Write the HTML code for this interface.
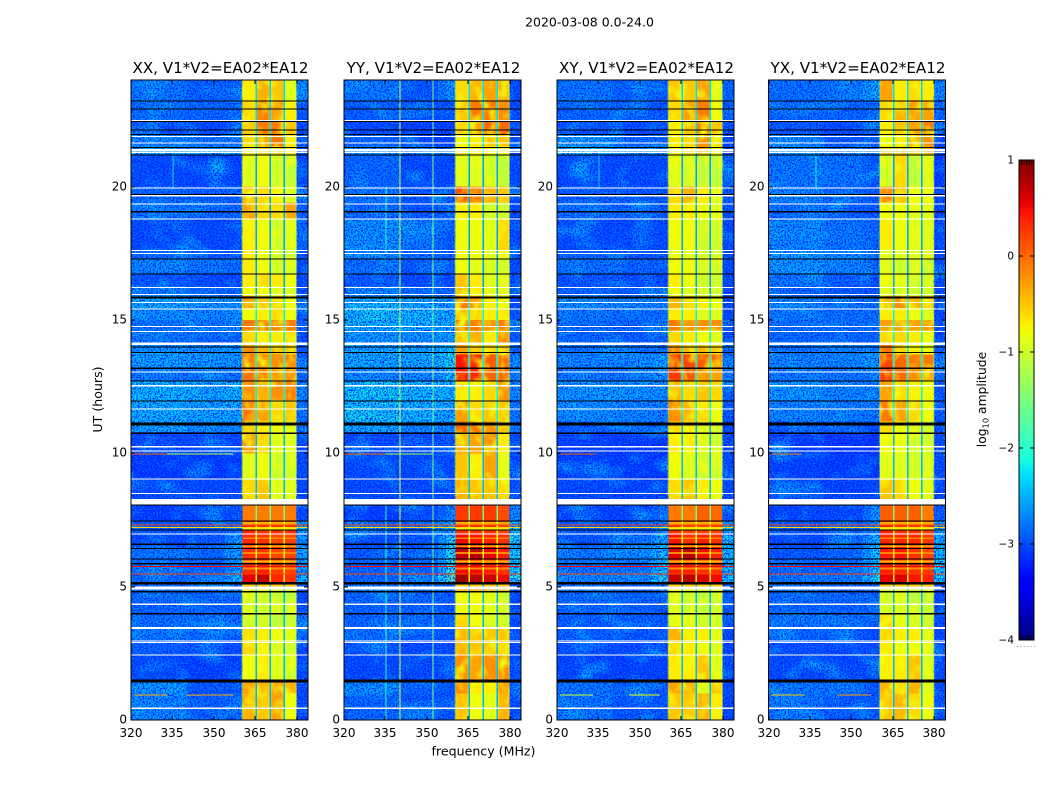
<!DOCTYPE html>
<html lang="en">
<head>
<meta charset="utf-8">
<title>2020-03-08 0.0-24.0</title>
<style>
html,body{margin:0;padding:0;background:#fff;width:1050px;height:800px;overflow:hidden}
svg{display:block;font-family:"DejaVu Sans","Liberation Sans",sans-serif;fill:#000}
</style>
</head>
<body>
<svg id="figure" xmlns="http://www.w3.org/2000/svg" width="1050" height="800" viewBox="0 0 1050 800">
<defs>
<filter id="speckle-dark" x="0" y="0" width="100%" height="100%" color-interpolation-filters="sRGB">
<feTurbulence type="fractalNoise" baseFrequency="0.6" numOctaves="2" seed="4"/>
<feColorMatrix type="matrix" values="0 0 0 0 0  0 0 0 0 0.1  0 0 0 0 1  4 0 0 0 -1.7"/>
</filter>
<filter id="speckle-light" x="0" y="0" width="100%" height="100%" color-interpolation-filters="sRGB">
<feTurbulence type="fractalNoise" baseFrequency="0.65" numOctaves="2" seed="11"/>
<feColorMatrix type="matrix" values="0 0 0 0 0  0 0 0 0 0.75  0 0 0 0 1  0 2 0 0 -1"/>
</filter>
<filter id="blotch-light" x="0" y="0" width="100%" height="100%" color-interpolation-filters="sRGB">
<feTurbulence type="fractalNoise" baseFrequency="0.035 0.05" numOctaves="2" seed="23"/>
<feColorMatrix type="matrix" values="0 0 0 0 0  0 0 0 0 0.75  0 0 0 0 1  2.5 0 0 0 -1.2"/>
</filter>
<filter id="blotch-window" x="0" y="0" width="100%" height="100%" color-interpolation-filters="sRGB">
<feTurbulence type="fractalNoise" baseFrequency="0.09 0.07" numOctaves="2" seed="7"/>
<feColorMatrix type="matrix" values="0 0 0 0 0.95  0 0 0 0 1  0 0 0 0 0.05  2.6 0 0 0 -1.2"/>
</filter>
</defs>
<g id="panels"></g>
<g id="colorbar"></g>
<text x="589.5" y="26.5" font-size="12.5" text-anchor="middle">2020-03-08 0.0-24.0</text>
<text x="483.5" y="755.5" font-size="12.6" text-anchor="middle">frequency (MHz)</text>
<text transform="translate(102,399.5) rotate(-90)" font-size="12.6" text-anchor="middle">UT (hours)</text>
<text transform="translate(986,399.5) rotate(-90)" font-size="12.3" text-anchor="middle">log<tspan font-size="8.3" dy="2.5">10</tspan><tspan dy="-2.5"> amplitude</tspan></text>
</svg>
<script>
const panelTitles = ["XX, V1*V2=EA02*EA12", "YY, V1*V2=EA02*EA12", "XY, V1*V2=EA02*EA12", "YX, V1*V2=EA02*EA12"];
const xTicks = [320, 335, 350, 365, 380];
const yTicks = [0, 5, 10, 15, 20];
const colorTicks = [1, 0, -1, -2, -3, -4];
// Time-band boundaries (UT hours), from the top of the plot down
const bandEdges = [24,23.23,22.5,21.95,21.5,21.2,20,19.4,18.8,17.6,17.3,16.75,16.25,15.9,15.45,15,14.6,14.1,13.7,13.2,12.7,12,11.2,10.8,10,9,8.4,8.1,7.45,7,6.5,6.05,5.5,5.15,4.85,4,3.5,2.95,2.45,1.5,1,0];
// Frequency-column boundaries (MHz)
const freqEdges = [320,340,354,357,360.3,365,365.55,370,370.55,375.2,375.75,379.8,384];
// Which value in a row belongs to each frequency column (-1 notch list, -2 mean of the two neighbouring background values)
const columnSource = [0,1,-2,2,3,-1,4,-1,5,-1,6,7];
// Log10 amplitude in the gaps between spectral windows, per time band
const notchValues = [-2.3,-2.3,-2.3,-2.3,-2.3,-2.6,-2.6,-2.6,-2.6,-2.6,-2.6,-2.6,-2.6,-2.2,-2.2,-2.2,-2.2,-2.2,-2.2,-2.2,-2.2,-2.2,-2.5,-2.5,-2.5,-2.5,-2.5,-1.6,-.8,-.8,-.8,-.8,-.8,-2.5,-2.5,-2.5,-2.5,-2.5,-2.5,-2.5,-2.5];
// Log10 amplitude per time band: 320-340, 340-354, 354-360, window 1-4, 380-384
const valuesXX = [
[-2.7,-2.85,-2.8,-.7,-.4,-.5,-.9,-2.6],[-2.75,-2.8,-2.8,-.6,-.15,-.3,-.7,-2.9],[-3,-3,-2.9,-.5,-.1,-.1,-.5,-3],[-2.6,-2.7,-2.7,-.6,-.3,-.1,-.7,-2.8],[-2.4,-2.4,-2.5,-.6,-.5,-.5,-.7,-2.9],
[-3,-3.05,-3.05,-.9,-.8,-1,-1.1,-3],[-2.8,-2.85,-2.9,-.4,-.6,-.7,-.9,-2.9],[-2.7,-2.8,-2.8,-.3,-.6,-.6,-.3,-2.9],[-3,-3,-3,-.7,-.8,-1,-.9,-2.8],[-2.8,-2.9,-2.9,-.7,-.8,-1,-1,-2.9],
[-2.6,-2.7,-2.8,-.7,-.8,-1,-1,-3],[-2.9,-3,-3,-.7,-.6,-.7,-.8,-3],[-2.7,-2.8,-2.8,-.8,-.8,-.9,-1,-3],[-2.4,-2.5,-2.5,-.2,-.5,-.6,-.8,-2.9],[-2.55,-2.6,-2.6,-.8,-.7,-.6,-.8,-2.9],
[-2.7,-2.7,-2.6,-.1,-.1,-.1,-.1,-2.8],[-2.7,-2.8,-2.8,-.6,-.7,-.7,-.6,-3],[-2.5,-2.5,-2.5,-.1,-.4,-.4,-.5,-2.9],[-2.45,-2.5,-2.5,-.1,-.2,-.2,-.1,-2.8],[-2.7,-2.7,-2.7,-.05,-.2,-.3,-.2,-2.8],
[-2.3,-2.35,-2.35,-.2,-.4,-.2,-.1,-2.6],[-2.35,-2.4,-2.4,-.05,-.3,-.6,-.5,-2.7],[-2.4,-2.6,-2.6,-.5,-.7,-.8,-.9,-2.7],[-3,-3,-3.05,-.3,-.6,-.9,-.9,-3],[-3.1,-3.1,-3.1,-.9,-.8,-1,-1,-3],
[-3,-3,-3,-.6,-.5,-.9,-.9,-3],[-3,-3,-3,-.6,-.5,-.9,-.9,-3],[-3.1,-3.1,-2.9,-.1,-.1,-.1,-.1,-3],[-2.9,-2.9,-2.7,.35,.3,.3,.3,-2.4],[-3,-2.9,-2.4,.35,.3,.2,.2,-2.5],
[-2.7,-2.8,-2.4,.3,.3,.2,.2,-2.4],[-2.8,-2.85,-2.4,.3,.4,.25,.2,-2.5],[-2.8,-2.7,-2.3,.55,.7,.35,.3,-2.3],[-2.7,-2.7,-2.8,-.7,-.8,-.9,-1,-2.9],[-2.8,-2.8,-2.8,-.95,-1,-1.05,-1.1,-3],
[-2.75,-2.7,-2.8,-1,-1,-1.1,-1.1,-3],[-2.7,-2.75,-2.9,-.6,-.7,-.8,-.9,-3],[-2.85,-2.95,-3,-.6,-.7,-.9,-1,-3],[-3,-3.05,-3.05,-.8,-.7,-.9,-1,-3],[-2.5,-2.9,-2.9,-.3,-.4,-.3,-.4,-3],
[-2.6,-2.85,-2.75,-.4,-.5,-.3,-.8,-3]];
const valuesYY = [
[-2.7,-2.9,-2.5,-.6,-.4,-.3,-.3,-3],[-2.85,-2.95,-2.95,-.5,-.1,-.1,-.2,-3],[-3,-3.05,-3.1,-.6,-.3,0,0,-2.9],[-2.8,-3.05,-3.05,-.8,-.7,-.5,-.5,-3],[-2.5,-2.6,-2.6,-.7,-.7,-.7,-.8,-3],
[-2.8,-3,-3,-.9,-.9,-1,-1.1,-3],[-2.7,-2.9,-2.9,.1,-.1,-.4,-.5,-3],[-2.8,-2.9,-2.9,-.7,-.7,-1,-1,-3],[-2.55,-2.7,-2.9,-.8,-.8,-.9,-.6,-3],[-2.6,-2.75,-2.9,-.8,-.8,-.9,-.8,-3],
[-2.75,-2.9,-3,-.8,-.9,-1,-1,-3],[-2.9,-3,-3,-.5,-.7,-.9,-.9,-3],[-2.6,-2.8,-2.8,-.5,-.7,-.9,-.9,-3],[-2.3,-2.4,-2.5,-.1,-.2,-.7,-.8,-3],[-2.2,-2.3,-2.4,-.5,-.6,-.7,-.7,-2.9],
[-2.25,-2.3,-2.3,0,-.1,-.2,-.1,-2.7],[-2.5,-2.5,-2.5,-.5,-.4,-.7,-.2,-2.9],[-2.35,-2.4,-2.2,-.3,-.5,-.5,-.5,-2.8],[-2.4,-2.4,-2.1,.45,.35,.05,.05,-2.6],[-2.6,-2.6,-2.3,.45,.35,0,0,-2.7],
[-2.2,-2.3,-2.3,-.7,-.7,-.6,-.2,-2.6],[-2.2,-2.3,-2.3,-.3,-.6,-.5,-.5,-2.7],[-2.4,-2.6,-2.6,0,-.1,-.2,-.5,-2.7],[-3,-3,-3,-.4,-.3,-.2,-.7,-3],[-3,-3,-3,-.5,-.7,-.3,-.9,-3],
[-3,-3,-3,-.4,-.5,-.5,-.6,-3],[-3,-3,-3,-.4,-.5,-.5,-.6,-3],[-3.1,-3,-2.6,.25,.25,.25,.15,-2.6],[-2.8,-2.8,-2.3,.3,.3,.3,.2,-2.2],[-3,-2.9,-2.1,.5,.45,.35,.3,-2.1],
[-2.9,-2.9,-2.1,.7,.75,.55,.4,-2.2],[-2.8,-2.8,-2,.5,.5,.4,.3,-2.2],[-2.8,-2.7,-1.7,.85,.75,.65,.5,-2],[-2.7,-2.7,-2.8,-.2,-.2,-.3,-.3,-3],[-2.8,-2.8,-2.9,-.8,-.8,-.9,-1,-3],
[-2.8,-2.8,-2.8,-.6,-.8,-1,-1,-3],[-2.75,-2.85,-3,-.4,-.5,-.5,-.5,-3],[-2.9,-3,-3,-.4,-.5,-.5,-.6,-3],[-3,-3,-2.8,-.2,-.3,-.2,-.2,-3],[-2.6,-2.8,-2.9,-.2,-.7,-.7,-.3,-3],
[-2.8,-2.9,-2.95,-.5,-.8,-.9,-.4,-3]];
const valuesXY = [
[-2.7,-2.85,-2.85,-.5,-.5,-.3,-.9,-2.8],[-2.8,-2.85,-2.9,-.6,-.3,-.1,-.8,-3],[-3,-3,-2.9,-.7,-.5,-.1,-.5,-3],[-2.5,-2.8,-2.8,-.7,-.6,-.2,-.6,-3],[-2.3,-2.5,-2.6,-.7,-.6,-.3,-.7,-3],
[-3,-3,-3,-.9,-1,-1.1,-1.1,-2.9],[-2.85,-2.9,-2.9,-.6,-.4,-.7,-.9,-2.9],[-2.75,-2.8,-2.9,-.7,-.7,-.8,-.9,-3],[-3,-3,-3,-.8,-.8,-1,-1,-3],[-2.8,-2.9,-2.9,-.8,-.9,-1,-1,-3],
[-2.75,-2.85,-2.9,-.8,-.8,-1,-1,-3],[-2.95,-3,-3,-.7,-.8,-1,-1,-3],[-2.8,-2.9,-2.9,-.8,-.9,-1,-1,-3],[-2.55,-2.6,-2.6,-.4,-.6,-.7,-.8,-3],[-2.7,-2.75,-2.75,-.7,-.7,-.9,-.9,-3],
[-2.75,-2.8,-2.8,-.1,-.2,-.2,-.2,-2.9],[-2.8,-2.85,-2.85,-.6,-.7,-.8,-.9,-3],[-2.7,-2.75,-2.7,-.1,-.4,-.4,-.5,-2.9],[-2.6,-2.6,-2.4,.25,.2,.05,0,-2.7],[-2.7,-2.7,-2.5,.25,.1,-.2,-.3,-2.8],
[-2.5,-2.5,-2.6,-.4,-.6,-.5,-.6,-2.9],[-2.55,-2.6,-2.7,-.2,-.4,-.6,-.8,-2.9],[-2.9,-2.9,-2.9,-.6,-.7,-.9,-1,-3],[-3.05,-3.1,-3.1,-.7,-.7,-.9,-1,-3],[-3.05,-3.1,-3.1,-.8,-.9,-1,-1,-3],
[-3,-3.05,-3.05,-.6,-.5,-.7,-.8,-3],[-3,-3.05,-3.05,-.6,-.5,-.7,-.8,-3],[-3.05,-3.05,-2.7,-.1,-.1,.05,0,-3],[-2.85,-2.85,-2.6,.3,.2,.2,.2,-2.4],[-2.9,-2.7,-2.3,.45,.3,.4,.3,-2.3],
[-2.7,-2.6,-2.2,.6,.75,.5,.4,-2.3],[-2.7,-2.7,-2.2,.4,.4,.3,.3,-2.3],[-2.6,-2.6,-2,.7,.75,.6,.5,-2.2],[-2.7,-2.8,-2.8,-.8,-.8,-.9,-1,-3],[-2.8,-2.8,-2.9,-.9,-1,-1.1,-1,-3],
[-2.85,-2.85,-2.9,-.9,-.9,-1,-1,-3],[-2.85,-2.9,-3,-.4,-.7,-.7,-.9,-3],[-2.95,-3,-3,-.6,-.7,-.8,-.9,-3],[-3.05,-3.05,-3.05,-.7,-.7,-.5,-.9,-3],[-2.7,-2.9,-2.9,-.3,-.4,-.9,-.5,-3],
[-2.7,-2.9,-2.9,-.5,-.5,-.4,-.7,-3]];
const valuesYX = [
[-2.75,-2.7,-2.4,-.3,-.7,-.6,-.7,-2.6],[-2.8,-2.8,-2.8,-.6,-.4,-.3,-.3,-2.8],[-2.9,-3,-2.9,-.7,-.5,-.3,-.1,-2.9],[-2.6,-2.9,-2.9,-.8,-.7,-.4,-.2,-3],[-2.45,-2.6,-2.6,-.3,-.4,-.4,-.3,-2.9],
[-2.7,-2.7,-2.9,-1,-.6,-1.1,-.9,-3.1],[-2.6,-2.8,-2.9,-.2,-.5,-.8,-.8,-3],[-2.75,-2.85,-2.9,-.8,-.8,-.9,-.9,-3],[-2.6,-2.7,-2.8,-.7,-.8,-.9,-.9,-3],[-2.45,-2.55,-2.7,-.9,-.9,-.9,-.9,-3],
[-2.5,-2.6,-2.9,-.9,-1,-1,-1.1,-3],[-2.7,-2.85,-3,-.8,-.9,-1,-1,-3],[-2.8,-2.9,-2.9,-.9,-1,-1,-1,-3],[-2.6,-2.7,-2.7,-.3,-.2,-.4,-.6,-3],[-2.7,-2.75,-2.75,-.7,-.7,-.8,-.9,-3],
[-2.75,-2.8,-2.8,-.3,-.3,-.3,-.2,-2.9],[-2.8,-2.8,-2.8,-.6,-.6,-.7,-.8,-3],[-2.7,-2.75,-2.7,-.05,-.5,-.7,-.8,-2.9],[-2.6,-2.6,-2.5,.2,0,-.1,-.1,-2.7],[-2.7,-2.7,-2.6,.2,0,-.2,-.3,-2.8],
[-2.5,-2.6,-2.7,-.3,-.6,-.7,-.8,-2.9],[-2.6,-2.65,-2.7,-.1,-.3,-.6,-.8,-2.9],[-3,-3,-3,-.6,-.8,-.9,-1,-3],[-3.1,-3.15,-3.15,-.8,-.8,-1,-1,-3],[-3.05,-3.1,-3.15,-.9,-.9,-1,-1,-3],
[-3,-3.05,-3,-.5,-.6,-.8,-.9,-3],[-3,-3.05,-3,-.5,-.6,-.8,-.9,-3],[-3.05,-3,-2.5,.05,.05,.05,-.1,-2.9],[-2.9,-2.9,-2.6,.4,.3,.3,.25,-2.4],[-3,-2.8,-2.3,.35,.35,.35,.25,-2.4],
[-2.9,-2.8,-2.2,.4,.45,.3,.2,-2.3],[-2.8,-2.8,-2.2,.4,.35,.3,.3,-2.2],[-2.7,-2.7,-2.1,.55,.6,.45,.4,-2.2],[-2.7,-2.8,-2.8,-.9,-.9,-1,-1,-3],[-2.8,-2.8,-2.85,-1,-.9,-1.1,-1.1,-3],
[-2.7,-2.7,-2.8,-.6,-.9,-1,-1,-3],[-2.8,-2.85,-3,-.6,-.7,-.7,-.9,-3],[-2.95,-3,-3,-.7,-.8,-.8,-.9,-3],[-3,-3,-3,-.7,-.7,-.5,-1,-3],[-2.7,-2.7,-2.9,-.4,-.6,-.4,-.9,-3],
[-2.7,-2.9,-2.9,-.5,-.4,-.6,-.8,-3]];
const panelValues = [valuesXX, valuesYY, valuesXY, valuesYX];
// Flagged integrations: [hour, duration in hours]
const whiteFlags = [[22.5,.04],[21.9,.04],[21.66,.04],[21.41,.07],[21.31,.04],[19.97,.04],[19.68,.04],[19.37,.04],[18.81,.04],[17.62,.04],[17.52,.04],[16.24,.04],[15.97,.04],[15.68,.04],[15.43,.04],[14.78,.04],[14.59,.04],[14.15,.04],[14.11,.04],[13.07,.04],[12.56,.05],[11.68,.04],[10.27,.05],[10.11,.05],[9.05,.04],[8.51,.04],[8.29,.24],[6.99,.04],[5.01,.11],[4.36,.04],[3.48,.07],[2.98,.04],[2.92,.04],[2.45,.04],[.46,.04]];
const blackFlags = [[23.23,.04],[22.93,.04],[22.47,.04],[22.15,.04],[21.97,.04],[21.49,.04],[21.21,.05],[19.72,.04],[19.09,.05],[17.31,.04],[16.74,.04],[15.89,.08],[14,.04],[13.8,.04],[13.22,.05],[12.73,.04],[11.98,.04],[11.16,.11],[10.78,.05],[8.09,.05],[7.49,.04],[7.14,.04],[6.61,.04],[6.45,.04],[6.05,.04],[5.88,.04],[5.17,.08],[4.83,.05],[4.01,.05],[1.52,.11]];
// Narrow-band interference across all panels: [hour, value]
const rfiAcross = [[7.34,.2],[7.24,-.6],[5.77,.5],[5.5,.2]];
// Dips in the bright windows during the 5-8 h active period: [hour, duration, value]
const windowDips = [[7.42,.09,-.35],[7.22,.09,-.7],[6.85,.07,-.15],[6.55,.07,-.3],[6.3,.07,-.15],[5.98,.07,-.4],[5.72,.07,-.2],[5.12,.11,-.5]];
// Partial interference: [panel, hour, start MHz, end MHz, value]
const rfiPartial = [[0,10,320,333,.1],[0,10,333,357,-1.2],[1,10,320,335,.1],[1,10,335,352,-1.3],[2,10,321,334,.1],[3,10,321,332,0],
[0,.95,321,333,-.4],[0,.95,340,357,-.3],[2,.95,321,333,-1],[2,.95,346,357,-.8],[3,.95,321,333,-.5],[3,.95,345,357,-.3]];
// Vertical interference: [panel, MHz, start hour, end hour, value]
const rfiVertical = [[1,340,0,24,-.9],[1,352,0,24,-1.5],[1,335,0,8.1,-2],[1,335,17.5,20,-2],[0,335,19.9,21.2,-2.3],[3,337,19.9,21.2,-2.1],[2,335,19.9,21.2,-2.3]];
// Spectral-window boundaries (MHz) whose edges roll off
const windowEdges = [360.3,365,365.55,370,370.55,375.2,375.75,379.8];
// Hour spans where the window bandpass shows mottled structure
const mottledHours = [[0,5.15],[8.4,24]];

const NS = 'http://www.w3.org/2000/svg';
const panelLeft = [131, 344, 557, 768.5];
const panelWidth = 177, plotTop = 80, plotBottom = 720;
const xScale = (p, f) => panelLeft[p] + (f - 320) * panelWidth / 64;
const yScale = h => plotBottom - h * (plotBottom - plotTop) / 24;
const cbarTop = 160, cbarBottom = 640, cbarLeft = 1019, cbarRight = 1034;
const cScale = v => cbarBottom - (v + 4) * (cbarBottom - cbarTop) / 5;

function ramp(t, pts) {
  for (let i = 1; i < pts.length; i++) {
    if (t <= pts[i][0]) {
      const a = pts[i - 1], b = pts[i];
      return a[1] + (b[1] - a[1]) * (t - a[0]) / (b[0] - a[0]);
    }
  }
  return pts[pts.length - 1][1];
}
function jet(v) {
  const t = Math.max(0, Math.min(1, (v + 4) / 5));
  const r = ramp(t, [[0,0],[.35,0],[.66,1],[.89,1],[1,.5]]);
  const g = ramp(t, [[0,0],[.125,0],[.375,1],[.64,1],[.91,0],[1,0]]);
  const b = ramp(t, [[0,.5],[.11,1],[.34,1],[.65,0],[1,0]]);
  return 'rgb(' + Math.round(r * 255) + ',' + Math.round(g * 255) + ',' + Math.round(b * 255) + ')';
}
function add(parent, tag, attrs, text) {
  const el = document.createElementNS(NS, tag);
  for (const k in attrs) el.setAttribute(k, attrs[k]);
  if (text !== undefined) el.textContent = text;
  parent.appendChild(el);
  return el;
}
function cellValue(row, b, src) {
  if (src === -1) return notchValues[b];
  if (src === -2) return (row[1] + row[2]) / 2;
  return row[src];
}
const panelsGroup = document.getElementById('panels');
panelTitles.forEach((title, p) => {
  const g = add(panelsGroup, 'g', {});
  
  

  const heat = add(g, 'g', {'shape-rendering': 'crispEdges'});
  
  
  const drawCells = notchPass => {
    panelValues[p].forEach((row, b) => {
      columnSource.forEach((src, c) => {
        if ((src === -1) !== notchPass) return;
        const cell = add(heat, 'rect', {
          x: xScale(p, freqEdges[c]), y: yScale(bandEdges[b]),
          width: xScale(p, freqEdges[c + 1]) - xScale(p, freqEdges[c]),
          height: yScale(bandEdges[b + 1]) - yScale(bandEdges[b]),
          fill: jet(cellValue(row, b, src))
        });
        
        
      });
    });
  };
  drawCells(false);

  // fine-grained receiver noise texture over the low-amplitude regions
  [[320, 360.3], [379.8, 384]].forEach(range => {
    ['blotch-light', 'speckle-dark', 'speckle-light'].forEach(id => {
      const s = add(heat, 'rect', {
        x: xScale(p, range[0]), y: plotTop,
        width: xScale(p, range[1]) - xScale(p, range[0]),
        height: plotBottom - plotTop, filter: 'url(#' + id + ')'
      });
      
      
    });
  });
  mottledHours.forEach(span => {
    const s = add(heat, 'rect', {
      x: xScale(p, 360.3), y: yScale(span[1]),
      width: xScale(p, 379.8) - xScale(p, 360.3),
      height: yScale(span[0]) - yScale(span[1]), filter: 'url(#blotch-window)'
    });
    
    
    windowEdges.forEach(f => {
      const edge = add(heat, 'rect', {
        x: xScale(p, f) - .75, y: yScale(span[1]), width: 1.5,
        height: yScale(span[0]) - yScale(span[1]),
        fill: '#c8ff40', 'fill-opacity': .35
      });
      
      
    });
  });
  windowDips.forEach(d => {
    const dip = add(heat, 'rect', {
      x: xScale(p, 360.3), y: yScale(d[0]),
      width: xScale(p, 379.8) - xScale(p, 360.3),
      height: d[1] * 26.667, fill: jet(d[2])
    });
    
    
  });
  drawCells(true);

  const rfi = add(g, 'g', {'shape-rendering': 'crispEdges'});
  
  
  rfiVertical.filter(r => r[0] === p).forEach(r => {
    const line = add(rfi, 'rect', {x: xScale(p, r[1]), y: yScale(r[3]), width: 1, height: yScale(r[2]) - yScale(r[3]), fill: jet(r[4])});
    
    
  });
  rfiAcross.forEach(r => {
    const line = add(rfi, 'rect', {x: xScale(p, 320), y: yScale(r[0]), width: panelWidth, height: 1, fill: jet(r[1])});
    
    
  });
  rfiPartial.filter(r => r[0] === p).forEach(r => {
    const line = add(rfi, 'rect', {x: xScale(p, r[2]), y: yScale(r[1]), width: xScale(p, r[3]) - xScale(p, r[2]), height: 1, fill: jet(r[4])});
    
    
  });

  const flags = add(g, 'g', {'shape-rendering': 'crispEdges'});
  
  
  whiteFlags.forEach(f => {
    const line = add(flags, 'rect', {x: xScale(p, 320), y: yScale(f[0]), width: panelWidth, height: f[1] * 26.667, fill: '#fff'});
    
    
  });
  blackFlags.forEach(f => {
    const line = add(flags, 'rect', {x: xScale(p, 320), y: yScale(f[0]), width: panelWidth, height: f[1] * 26.667, fill: '#000'});
    
    
  });

  const frame = add(g, 'rect', {x: panelLeft[p], y: plotTop, width: panelWidth, height: plotBottom - plotTop, fill: 'none', stroke: '#000', 'stroke-width': 1});
  
  

  const title_ = add(g, 'text', {x: panelLeft[p] + panelWidth / 2 + 1, y: 73, 'font-size': 15.1, 'text-anchor': 'middle'}, title);
  
  

  xTicks.forEach(t => {
    const x = Math.round(xScale(p, t));
    const tick = add(g, 'path', {d: 'M' + x + ' ' + plotBottom + 'v-4M' + x + ' ' + plotTop + 'v4', stroke: '#000', 'stroke-width': 1, fill: 'none'});
    
    
    const label = add(g, 'text', {x: x, y: 737, 'font-size': 12, 'text-anchor': 'middle'}, String(t));
    
    
  });
  yTicks.forEach(t => {
    const y = Math.round(yScale(t));
    const x0 = panelLeft[p], x1 = panelLeft[p] + panelWidth;
    const tick = add(g, 'path', {d: 'M' + x0 + ' ' + y + 'h4M' + x1 + ' ' + y + 'h-4', stroke: '#000', 'stroke-width': 1, fill: 'none'});
    
    
    const label = add(g, 'text', {x: x0 - 4, y: y + 3.5, 'font-size': 12, 'text-anchor': 'end'}, String(t));
    
    
  });
});

const cbar = document.getElementById('colorbar');
const cbarSteps = add(cbar, 'g', {'shape-rendering': 'crispEdges'});


for (let i = 0; i < cbarBottom - cbarTop; i++) {
  const v = 1 - (i + .5) * 5 / (cbarBottom - cbarTop);
  const step = add(cbarSteps, 'rect', {x: cbarLeft, y: cbarTop + i, width: cbarRight - cbarLeft, height: 1.2, fill: jet(v)});
  
  
}
const cFrame = add(cbar, 'rect', {x: cbarLeft, y: cbarTop, width: cbarRight - cbarLeft, height: cbarBottom - cbarTop, fill: 'none', stroke: '#000', 'stroke-width': 1});


colorTicks.forEach(t => {
  const y = Math.round(cScale(t));
  const tick = add(cbar, 'path', {d: 'M' + cbarLeft + ' ' + y + 'h4M' + cbarRight + ' ' + y + 'h-4', stroke: '#000', 'stroke-width': 1, fill: 'none'});
  
  
  const label = add(cbar, 'text', {x: cbarLeft - 5, y: y + 3.5, 'font-size': 10.5, 'text-anchor': 'end'}, (t < 0 ? '\u2212' + (-t) : String(t)));
  
  
});
for (let i = 0; i < 6; i++) {
  const x = cbarLeft + 2.5 + i * 2.5;
  const tick = add(cbar, 'path', {d: 'M' + x + ' ' + cbarTop + 'v5M' + x + ' ' + cbarBottom + 'v-5', stroke: '#000', 'stroke-width': .8, fill: 'none'});
  
  
  const dot = add(cbar, 'rect', {x: cbarLeft - 2 + i * 3.4, y: 646, width: 1, height: 1, fill: '#999'});
  
  
}
</script>
</body>
</html>
